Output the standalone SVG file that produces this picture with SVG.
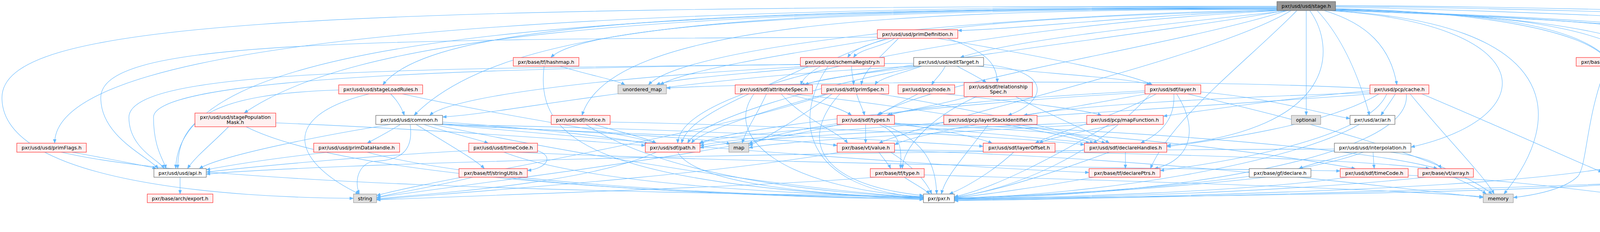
<svg xmlns="http://www.w3.org/2000/svg" width="5313" height="593" viewBox="0 0 5313 593">
<style>
.e{fill:none;stroke:#63b8ff;stroke-width:1.1;marker-end:url(#ah)}
.n rect{stroke-width:1.2}
.r rect{fill:#fff0f0;stroke:#ff2a2a}
.g rect{fill:#e0e0e0;stroke:#999999}
.w rect{fill:#ffffff;stroke:#666666}
.m rect{fill:#999999;stroke:#666666}
text{font-family:"DejaVu Sans","Liberation Sans",sans-serif;font-size:12.7px;fill:#000000;text-anchor:middle}
</style>
<defs>
<marker id="ah" markerUnits="userSpaceOnUse" markerWidth="11" markerHeight="8" refX="10" refY="4" orient="auto"><path d="M0,0 L10,4 L0,8 Z" fill="#63b8ff" stroke="#63b8ff" stroke-width="0.5"/></marker>
</defs>
<rect width="5313" height="593" fill="#ffffff"/>
<g id="edges">
<!-- stage.h -->
<path class="e" d="M3269,17 C1500,17 140,90 140,366"/>
<path class="e" d="M3269,16 C700,16 5,60 5,250 C5,470 600,505 905,507"/>
<path class="e" d="M3269,19 C1300,20 455,120 450,431"/>
<path class="e" d="M3269,20 C1600,20 900,100 625,289"/>
<path class="e" d="M3269,21 C1800,21 1100,60 980,217"/>
<path class="e" d="M3269,22 C2000,22 1300,50 1060,295"/>
<path class="e" d="M3269,23 C2200,23 1500,60 1410,147"/>
<path class="e" d="M3269,24 C2300,24 1560,60 1490,295"/>
<path class="e" d="M3269,25 C2500,40 1750,120 1660,217"/>
<path class="e" d="M3280,27 C2600,60 1740,200 1735,366"/>
<path class="e" d="M3275,27 C2700,40 2220,70 2170,147"/>
<path class="e" d="M3272,26 C2900,40 2600,75 2452,78"/>
<path class="e" d="M3300,27 C3000,60 2600,100 2458,147"/>
<path class="e" d="M3290,27 C3000,80 2300,160 2050,217"/>
<path class="e" d="M3295,27 C3000,120 2400,200 2245,295"/>
<path class="e" d="M3305,27 C3100,150 2400,300 2250,366"/>
<path class="e" d="M3353,27 C3420,120 3430,330 2987,372"/>
<path class="e" d="M3320,27 C3200,150 3000,300 2945,431"/>
<path class="e" d="M3344,27 L3344,295"/>
<path class="e" d="M3372,27 C3440,100 3480,200 3506,295"/>
<path class="e" d="M3390,27 C3500,60 3560,120 3576,217"/>
<path class="e" d="M3400,27 C3950,60 3955,300 3612,376"/>
<path class="e" d="M3410,27 C4000,60 4010,300 3850,496"/>
<path class="e" d="M3419,22 C3800,30 4050,80 4110,147"/>
<path class="e" d="M3419,23 C4100,40 4240,120 4137,431"/>
<path class="e" d="M3419,24 C4200,40 4300,150 4272,366"/>
<path class="e" d="M3419,25 C4300,50 4405,150 4382,431"/>
<path class="e" d="M3419,25 C4400,60 4507,100 4507,250 C4507,360 4530,400 4546,431"/>
<path class="e" d="M3419,26 C4600,60 4668,120 4668,300 C4668,460 4500,500 4294,505"/>
<path class="e" d="M3419,27 C4650,70 4718,130 4718,300 C4718,470 4300,490 2443,508"/>
<path class="e" d="M3419,18 C4000,30 4500,60 4756,70"/>
<path class="e" d="M3419,16 C4200,25 4800,55 4969,70"/>
<path class="e" d="M3419,14 C4300,20 5100,55 5180,76"/>
<!-- primDefinition.h -->
<path class="e" d="M2246,95 C800,100 258,110 258,250 C258,350 380,400 405,431"/>
<path class="e" d="M2290,98 C2260,120 2200,125 2185,147"/>
<path class="e" d="M2270,98 C2150,140 2060,180 2050,217"/>
<path class="e" d="M2300,98 C2250,150 2210,180 2205,217"/>
<path class="e" d="M2425,98 C2520,130 2553,160 2553,211"/>
<path class="e" d="M2400,98 C2700,150 2900,190 2950,217"/>
<path class="e" d="M2260,98 C2000,140 1750,180 1690,217"/>
<!-- schemaRegistry.h -->
<path class="e" d="M2060,165 C1000,175 330,180 330,300 C330,380 410,410 420,431"/>
<path class="e" d="M2080,169 C1500,200 1150,250 1100,295"/>
<path class="e" d="M2180,169 C2180,190 2185,200 2185,217"/>
<path class="e" d="M2100,169 C1900,190 1720,200 1680,217"/>
<path class="e" d="M2120,169 C2030,300 2050,480 2364,505"/>
<path class="e" d="M2070,169 C1900,250 1760,300 1745,366"/>
<!-- editTarget.h -->
<path class="e" d="M2420,169 C2410,190 2395,200 2385,217"/>
<path class="e" d="M2450,169 C2480,185 2510,200 2525,211"/>
<path class="e" d="M2339,162 C1200,170 393,200 393,300 C393,380 420,410 425,431"/>
<path class="e" d="M2500,169 C2700,190 2900,200 2945,217"/>
<path class="e" d="M2360,169 C2100,220 1800,300 1760,366"/>
<path class="e" d="M2518,165 C2700,180 2680,260 2580,295"/>
<path class="e" d="M2345,169 C1700,200 1300,290 1133,299"/>
<path class="e" d="M2360,169 C2300,190 2250,200 2240,217"/>
<path class="e" d="M2350,169 C2200,190 2100,200 2060,217"/>
<!-- hashmap.h -->
<path class="e" d="M1433,169 C1500,190 1580,205 1600,217"/>
<path class="e" d="M1393,169 C1370,350 1500,470 2364,509"/>
<!-- weakBase.h -->
<path class="e" d="M4112,169 C4060,300 4063,420 4040,450 C4000,490 3900,502 3874,505"/>
<!-- stageLoadRules.h -->
<path class="e" d="M867,230 C550,240 455,300 455,431"/>
<path class="e" d="M1000,240 C1020,260 1030,280 1035,295"/>
<path class="e" d="M1030,240 C1300,300 1600,340 1680,366"/>
<path class="e" d="M945,240 C700,300 760,420 920,496"/>
<!-- stagePopulationMask.h -->
<path class="e" d="M585,324 C540,370 500,400 480,431"/>
<path class="e" d="M706,314 C1100,330 1500,360 1652,372"/>
<path class="e" d="M630,324 C900,460 1800,500 2364,510"/>
<!-- common.h -->
<path class="e" d="M1000,318 C800,350 560,400 510,431"/>
<path class="e" d="M1025,318 C990,340 960,355 940,366"/>
<path class="e" d="M1050,318 C1060,390 1020,410 960,412 C920,415 905,460 920,496"/>
<path class="e" d="M1085,318 C1150,340 1220,355 1250,366"/>
<path class="e" d="M1065,318 C1150,370 1220,410 1240,431"/>
<path class="e" d="M1108,318 C1500,400 2000,480 2364,506"/>
<path class="e" d="M1133,312 C1400,330 1600,355 1660,368"/>
<path class="e" d="M1133,316 C1500,340 1800,350 1870,368"/>
<path class="e" d="M1120,318 C1600,345 2000,350 2143,372"/>
<path class="e" d="M1133,318 C1800,380 2500,430 2788,441"/>
<path class="e" d="M1125,318 C1800,330 2300,360 2517,374"/>
<!-- primDataHandle.h -->
<path class="e" d="M840,389 C700,405 600,420 528,434"/>
<path class="e" d="M940,389 C1200,460 1800,500 2364,507"/>
<!-- primFlags.h -->
<path class="e" d="M185,389 C300,410 380,425 400,431"/>
<path class="e" d="M157,389 C500,470 1500,490 2364,503"/>
<!-- usd timeCode.h -->
<path class="e" d="M1200,385 C1000,395 700,420 528,440"/>
<path class="e" d="M1320,389 C2000,420 3000,430 3431,437"/>
<path class="e" d="M1290,389 C1500,470 2000,495 2364,505"/>
<path class="e" d="M1376,385 C1420,400 1400,430 1350,436"/>
<!-- stringUtils.h -->
<path class="e" d="M1210,453 C1100,480 1000,495 964,505"/>
<path class="e" d="M1300,453 C1600,490 2100,505 2364,506"/>
<!-- sdf notice.h -->
<path class="e" d="M1520,318 C1600,340 1660,355 1680,366"/>
<path class="e" d="M1500,318 C1700,450 2100,495 2364,504"/>
<path class="e" d="M1562,312 C2000,320 2600,350 2776,370"/>
<!-- path.h -->
<path class="e" d="M1735,389 C1780,470 2100,500 2364,505"/>
<path class="e" d="M1680,389 C1500,470 1100,495 964,508"/>
<!-- attributeSpec.h -->
<path class="e" d="M1962,240 C1940,290 1910,330 1900,366"/>
<path class="e" d="M2013,240 C2100,260 2160,280 2180,295"/>
<path class="e" d="M2030,240 C2400,280 2700,340 2800,366"/>
<path class="e" d="M1930,240 C1850,350 2000,480 2364,503"/>
<path class="e" d="M2000,240 C2050,300 2150,340 2170,366"/>
<!-- primSpec.h -->
<path class="e" d="M2193,240 C2200,265 2210,280 2213,295"/>
<path class="e" d="M2130,240 C2050,300 1950,360 1917,372"/>
<path class="e" d="M2250,240 C2500,280 2750,340 2830,366"/>
<path class="e" d="M2115,240 C1900,300 1790,340 1770,366"/>
<path class="e" d="M2150,240 C2050,350 2080,470 2364,500"/>
<path class="e" d="M2120,240 C1800,350 1100,460 964,500"/>
<!-- pcp node.h -->
<path class="e" d="M2350,240 C2300,265 2260,285 2250,295"/>
<path class="e" d="M2420,240 C2600,260 2780,280 2820,295"/>
<!-- relationshipSpec.h -->
<path class="e" d="M2480,247 C2400,270 2300,285 2270,295"/>
<path class="e" d="M2500,247 C2380,300 2310,380 2310,431"/>
<path class="e" d="M2600,247 C2700,300 2800,340 2840,366"/>
<!-- sdf layer.h -->
<path class="e" d="M3005,240 C3010,320 2950,350 2920,366"/>
<path class="e" d="M3012,240 C3070,330 3050,410 2955,431"/>
<path class="e" d="M2960,240 C2850,300 2700,340 2650,366"/>
<path class="e" d="M2931,236 C2500,260 1900,320 1790,366"/>
<path class="e" d="M2931,232 C2600,250 2350,270 2275,295"/>
<path class="e" d="M2945,240 C2800,400 2600,480 2443,505"/>
<path class="e" d="M3040,240 C3300,300 3700,400 3820,496"/>
<path class="e" d="M2935,240 C2600,300 2350,340 2290,370"/>
<path class="e" d="M3074,235 C3250,250 3380,290 3456,303"/>
<!-- pcp cache.h -->
<path class="e" d="M3572,240 C3560,260 3545,280 3535,295"/>
<path class="e" d="M3507,232 C3300,250 3100,280 2978,297"/>
<path class="e" d="M3507,237 C3100,250 2750,270 2620,295"/>
<path class="e" d="M3510,240 C3000,280 2000,330 1792,372"/>
<path class="e" d="M3530,240 C3400,320 3100,360 2987,375"/>
<path class="e" d="M3550,240 C3500,360 3100,420 2970,436"/>
<path class="e" d="M3600,240 C3620,400 3000,500 2443,509"/>
<path class="e" d="M3610,240 C3700,350 3800,450 3825,496"/>
<path class="e" d="M3507,226 C3000,200 2000,210 1706,225"/>
<path class="e" d="M3640,240 C3900,350 4050,420 4102,440"/>
<!-- sdf types.h -->
<path class="e" d="M2216,318 L2216,366"/>
<path class="e" d="M2250,318 C2305,340 2310,380 2305,431"/>
<path class="e" d="M2260,318 C2370,360 2395,420 2398,496"/>
<path class="e" d="M2143,316 C2050,330 1950,350 1917,368"/>
<path class="e" d="M2160,318 C2000,340 1820,350 1792,368"/>
<path class="e" d="M2290,314 C2400,330 2500,350 2540,366"/>
<path class="e" d="M2290,318 C2500,340 2700,355 2790,366"/>
<path class="e" d="M2150,318 C1800,400 1200,470 964,505"/>
<path class="e" d="M2290,316 C2900,330 3500,380 3680,431"/>
<path class="e" d="M2290,317 C2900,340 3300,400 3470,431"/>
<!-- layerStackIdentifier.h -->
<path class="e" d="M2530,318 C2470,400 2420,450 2410,496"/>
<path class="e" d="M2600,318 C2700,335 2780,350 2810,366"/>
<!-- mapFunction.h -->
<path class="e" d="M2782,313 C2400,330 1900,350 1792,378"/>
<path class="e" d="M2860,318 C2750,340 2680,355 2660,366"/>
<path class="e" d="M2840,318 C2700,400 2550,480 2443,503"/>
<path class="e" d="M2790,318 C2400,340 2000,360 1917,378"/>
<!-- ar.h -->
<path class="e" d="M3480,318 C3300,420 2800,500 2443,506"/>
<!-- declareHandles.h -->
<path class="e" d="M2881,389 L2881,431"/>
<path class="e" d="M2840,389 C2700,440 2550,490 2443,504"/>
<!-- declarePtrs.h -->
<path class="e" d="M2800,453 C2650,480 2500,500 2443,506"/>
<!-- layerOffset.h -->
<path class="e" d="M2595,389 C2540,440 2470,480 2430,496"/>
<!-- vt value.h -->
<path class="e" d="M2250,389 C2265,410 2275,420 2280,431"/>
<path class="e" d="M2280,389 C2330,420 2370,460 2385,496"/>
<path class="e" d="M2150,389 C1800,450 1200,490 964,510"/>
<path class="e" d="M2290,385 C2900,400 3500,470 3797,505"/>
<path class="e" d="M2290,383 C3000,390 3500,410 3660,431"/>
<!-- tf type.h -->
<path class="e" d="M2315,453 C2340,470 2370,485 2380,496"/>
<path class="e" d="M2366,447 C2800,460 3500,480 3797,503"/>
<path class="e" d="M2240,453 C1900,480 1200,500 964,511"/>
<!-- interpolation.h -->
<path class="e" d="M3475,389 C3420,405 3350,420 3325,431"/>
<path class="e" d="M3515,389 C3516,405 3517,420 3518,431"/>
<path class="e" d="M3560,389 C3640,400 3680,415 3690,431"/>
<path class="e" d="M3416,381 C2000,385 800,420 528,445"/>
<path class="e" d="M3490,389 C3300,460 2800,495 2443,507"/>
<!-- bottom rows -->
<path class="e" d="M3240,453 C3000,480 2700,500 2443,508"/>
<path class="e" d="M3450,453 C3200,490 2700,505 2443,509"/>
<path class="e" d="M3605,448 C3900,460 4100,495 4207,503"/>
<path class="e" d="M3722,453 C3760,470 3790,485 3805,496"/>
<path class="e" d="M3650,453 C3300,490 2800,505 2443,510"/>
<path class="e" d="M4245,389 C4200,410 4170,425 4160,431"/>
<path class="e" d="M4285,389 C4320,410 4345,425 4355,431"/>
<path class="e" d="M4266,389 C4260,430 4255,470 4253,496"/>
<path class="e" d="M4258,389 C4150,460 3500,495 2443,512"/>
<path class="e" d="M4540,453 C4400,470 4320,490 4294,500"/>
<path class="e" d="M4487,453 C4000,480 3000,505 2443,513"/>
<path class="e" d="M461,453 L461,496"/>
</g>
<g id="node-stage" class="n m"><rect x="3269" y="4" width="150" height="23"/><text x="3344" y="19.5">pxr/usd/usd/stage.h</text></g>
<g id="node-tbb-cus" class="n g"><rect x="4756" y="69" width="189" height="35"/><text><tspan x="4850.5" y="83.5">tbb/concurrent_unordered</tspan><tspan x="4850.5" y="96.5">_set.h</tspan></text></g>
<g id="node-tbb-chm" class="n g"><rect x="4969" y="69" width="155" height="35"/><text><tspan x="5046.5" y="83.5">tbb/concurrent_hash</tspan><tspan x="5046.5" y="96.5">_map.h</tspan></text></g>
<g id="node-spin" class="n g"><rect x="5148" y="76" width="159" height="22"/><text x="5227.5" y="91.5">tbb/spin_rw_mutex.h</text></g>
<g id="node-primDefinition" class="n r"><rect x="2246" y="76" width="206" height="22"/><text x="2349" y="91.5">pxr/usd/usd/primDefinition.h</text></g>
<g id="node-hashmap" class="n r"><rect x="1314" y="147" width="168" height="22"/><text x="1398" y="162.5">pxr/base/tf/hashmap.h</text></g>
<g id="node-schemaRegistry" class="n r"><rect x="2049" y="147" width="215" height="22"/><text x="2156.5" y="162.5">pxr/usd/usd/schemaRegistry.h</text></g>
<g id="node-editTarget" class="n w"><rect x="2339" y="147" width="179" height="22"/><text x="2428.5" y="162.5">pxr/usd/usd/editTarget.h</text></g>
<g id="node-weakBase" class="n r"><rect x="4035" y="147" width="175" height="22"/><text x="4122.5" y="162.5">pxr/base/tf/weakBase.h</text></g>
<g id="node-stageLoadRules" class="n r"><rect x="867" y="217" width="215" height="23"/><text x="974.5" y="233">pxr/usd/usd/stageLoadRules.h</text></g>
<g id="node-unordered_map" class="n g"><rect x="1582" y="217" width="124" height="23"/><text x="1644" y="233">unordered_map</text></g>
<g id="node-attributeSpec" class="n r"><rect x="1882" y="217" width="198" height="23"/><text x="1981" y="233">pxr/usd/sdf/attributeSpec.h</text></g>
<g id="node-primSpec" class="n r"><rect x="2103" y="217" width="172" height="23"/><text x="2189" y="233">pxr/usd/sdf/primSpec.h</text></g>
<g id="node-pcpNode" class="n r"><rect x="2299" y="217" width="145" height="23"/><text x="2371.5" y="233">pxr/usd/pcp/node.h</text></g>
<g id="node-relationshipSpec" class="n r"><rect x="2468" y="211" width="175" height="36"/><text><tspan x="2555.5" y="225.5">pxr/usd/sdf/relationship</tspan><tspan x="2555.5" y="239">Spec.h</tspan></text></g>
<g id="node-sdfLayer" class="n r"><rect x="2931" y="217" width="143" height="23"/><text x="3002.5" y="233">pxr/usd/sdf/layer.h</text></g>
<g id="node-pcpCache" class="n r"><rect x="3507" y="217" width="151" height="23"/><text x="3582.5" y="233">pxr/usd/pcp/cache.h</text></g>
<g id="node-stagePopulationMask" class="n r"><rect x="499" y="289" width="207" height="35"/><text><tspan x="602.5" y="303.5">pxr/usd/usd/stagePopulation</tspan><tspan x="602.5" y="316.5">Mask.h</tspan></text></g>
<g id="node-common" class="n w"><rect x="962" y="295" width="171" height="23"/><text x="1047.5" y="311">pxr/usd/usd/common.h</text></g>
<g id="node-sdfNotice" class="n r"><rect x="1411" y="295" width="151" height="23"/><text x="1486.5" y="311">pxr/usd/sdf/notice.h</text></g>
<g id="node-sdfTypes" class="n r"><rect x="2143" y="295" width="147" height="23"/><text x="2216.5" y="311">pxr/usd/sdf/types.h</text></g>
<g id="node-layerStackIdentifier" class="n r"><rect x="2416" y="295" width="239" height="23"/><text x="2535.5" y="311">pxr/usd/pcp/layerStackIdentifier.h</text></g>
<g id="node-mapFunction" class="n r"><rect x="2782" y="295" width="196" height="23"/><text x="2880" y="311">pxr/usd/pcp/mapFunction.h</text></g>
<g id="node-optional" class="n g"><rect x="3306" y="295" width="75" height="23"/><text x="3343.5" y="311">optional</text></g>
<g id="node-arAr" class="n w"><rect x="3456" y="295" width="115" height="23"/><text x="3513.5" y="311">pxr/usd/ar/ar.h</text></g>
<g id="node-primFlags" class="n r"><rect x="43" y="366" width="178" height="23"/><text x="132" y="382">pxr/usd/usd/primFlags.h</text></g>
<g id="node-primDataHandle" class="n r"><rect x="803" y="366" width="220" height="23"/><text x="913" y="382">pxr/usd/usd/primDataHandle.h</text></g>
<g id="node-usdTimeCode" class="n r"><rect x="1200" y="366" width="176" height="23"/><text x="1288" y="382">pxr/usd/usd/timeCode.h</text></g>
<g id="node-sdfPath" class="n r"><rect x="1652" y="366" width="140" height="23"/><text x="1722" y="382">pxr/usd/sdf/path.h</text></g>
<g id="node-map" class="n g"><rect x="1866" y="366" width="51" height="23"/><text x="1891.5" y="382">map</text></g>
<g id="node-vtValue" class="n r"><rect x="2143" y="366" width="147" height="23"/><text x="2216.5" y="382">pxr/base/vt/value.h</text></g>
<g id="node-layerOffset" class="n r"><rect x="2517" y="366" width="184" height="23"/><text x="2609" y="382">pxr/usd/sdf/layerOffset.h</text></g>
<g id="node-declareHandles" class="n r"><rect x="2776" y="366" width="211" height="23"/><text x="2881.5" y="382">pxr/usd/sdf/declareHandles.h</text></g>
<g id="node-interpolation" class="n w"><rect x="3416" y="366" width="196" height="23"/><text x="3514" y="382">pxr/usd/usd/interpolation.h</text></g>
<g id="node-dispatcher" class="n r"><rect x="4169" y="366" width="198" height="23"/><text x="4268" y="382">pxr/base/work/dispatcher.h</text></g>
<g id="node-api" class="n w"><rect x="394" y="431" width="134" height="22"/><text x="461" y="446.5">pxr/usd/usd/api.h</text></g>
<g id="node-stringUtils" class="n r"><rect x="1175" y="431" width="175" height="22"/><text x="1262.5" y="446.5">pxr/base/tf/stringUtils.h</text></g>
<g id="node-tfType" class="n r"><rect x="2228" y="431" width="138" height="22"/><text x="2297" y="446.5">pxr/base/tf/type.h</text></g>
<g id="node-declarePtrs" class="n r"><rect x="2788" y="431" width="182" height="22"/><text x="2879" y="446.5">pxr/base/tf/declarePtrs.h</text></g>
<g id="node-gfDeclare" class="n w"><rect x="3198" y="431" width="158" height="22"/><text x="3277" y="446.5">pxr/base/gf/declare.h</text></g>
<g id="node-sdfTimeCode" class="n r"><rect x="3431" y="431" width="174" height="22"/><text x="3518" y="446.5">pxr/usd/sdf/timeCode.h</text></g>
<g id="node-vtArray" class="n r"><rect x="3630" y="431" width="142" height="22"/><text x="3701" y="446.5">pxr/base/vt/array.h</text></g>
<g id="node-utility" class="n g"><rect x="4102" y="431" width="60" height="22"/><text x="4132" y="446.5">utility</text></g>
<g id="node-concurrentVector" class="n g"><rect x="4288" y="431" width="175" height="22"/><text x="4375.5" y="446.5">tbb/concurrent_vector.h</text></g>
<g id="node-arNotice" class="n r"><rect x="4487" y="431" width="143" height="22"/><text x="4558.5" y="446.5">pxr/usd/ar/notice.h</text></g>
<g id="node-export" class="n r"><rect x="377" y="496" width="168" height="22"/><text x="461" y="511.5">pxr/base/arch/export.h</text></g>
<g id="node-string" class="n g"><rect x="905" y="496" width="59" height="22"/><text x="934.5" y="511.5">string</text></g>
<g id="node-pxr" class="n w"><rect x="2364" y="496" width="79" height="22"/><text x="2403.5" y="511.5">pxr/pxr.h</text></g>
<g id="node-memory" class="n g"><rect x="3797" y="496" width="77" height="22"/><text x="3835.5" y="511.5">memory</text></g>
<g id="node-functional" class="n g"><rect x="4207" y="496" width="87" height="22"/><text x="4250.5" y="511.5">functional</text></g>
</svg>
